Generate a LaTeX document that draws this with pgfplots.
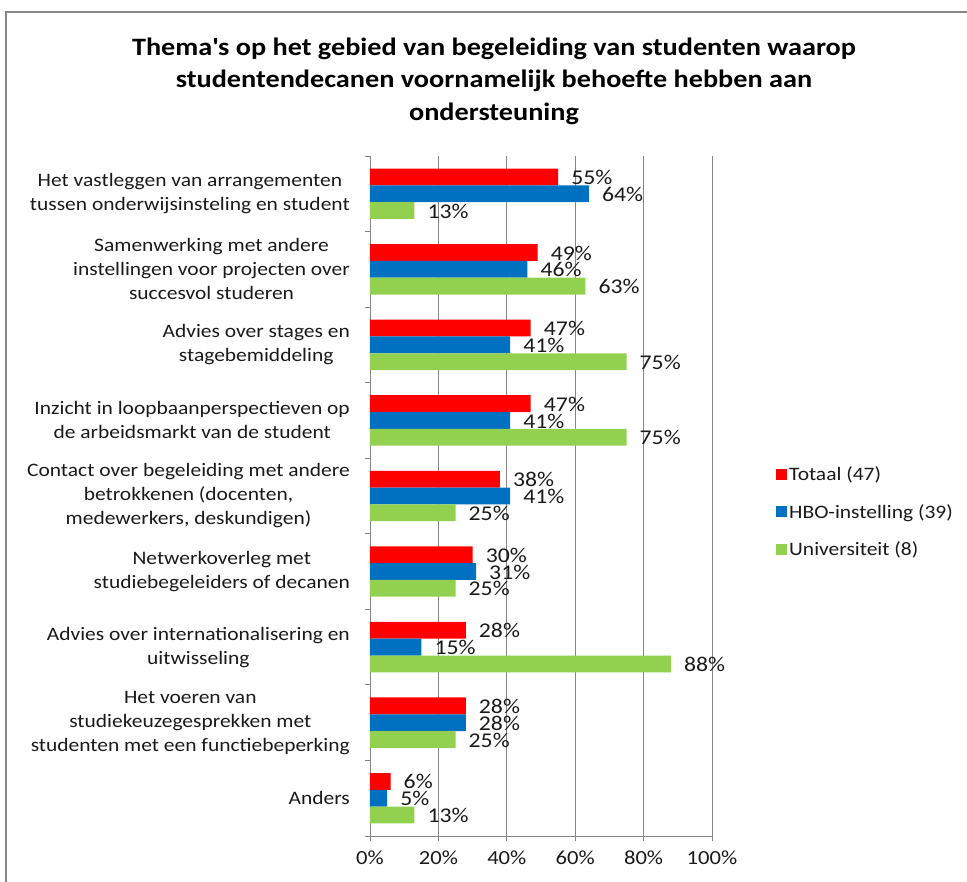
\documentclass[border=0pt]{standalone}
\usepackage{pgfplots}
\pgfplotsset{compat=1.18}
\usepackage{fontspec}
\setmainfont{Carlito}[FakeStretch=1.13]
\definecolor{cRed}{HTML}{FF0000}
\definecolor{cBlue}{HTML}{0070C0}
\definecolor{cGreen}{HTML}{92D050}
\definecolor{gridc}{HTML}{868686}
\definecolor{txt}{HTML}{1A1A1A}
\begin{document}
\begin{tikzpicture}
\path[use as bounding box] (0pt,0pt) rectangle (967pt,882pt);
\draw[gridc, line width=1.5pt] (6pt,-10pt) -- (6pt,870pt) -- (990pt,870pt);
\node[align=center, font=\bfseries\fontsize{25}{32.5}\selectfont, text=black] at (494pt,801pt)
 {Thema\textquotesingle s op het gebied van begeleiding van studenten waarop\\studentendecanen voornamelijk behoefte hebben aan\\ondersteuning};
\begin{axis}[
  at={(370pt,46pt)}, anchor=south west,
  scale only axis, width=342pt, height=680pt,
  xmin=0, xmax=100, ymin=-0.5, ymax=8.5,
  axis x line*=bottom, axis y line*=left,
  axis line style={gridc, line width=0.8pt},
  xmajorgrids, grid style={gridc, line width=0.8pt},
  xtick={0,20,40,60,80,100},
  xticklabels={0\%,20\%,40\%,60\%,80\%,100\%},
  tick align=outside, major tick length=5pt, minor tick length=5pt,
  tick style={gridc, line width=0.8pt},
  ytick={0,...,8},
  minor ytick={-0.5,0.5,...,8.5},
  major y tick style={draw=none},
  yticklabels={
    {Anders},
    {Het voeren van\\studiekeuzegesprekken met\\studenten met een functiebeperking},
    {Advies over internationalisering en\\uitwisseling},
    {Netwerkoverleg met\\studiebegeleiders of decanen},
    {Contact over begeleiding met andere\\betrokkenen (docenten,\\medewerkers, deskundigen)},
    {Inzicht in loopbaanperspectieven op\\de arbeidsmarkt van de student},
    {Advies over stages en\\stagebemiddeling},
    {Samenwerking met andere\\instellingen voor projecten over\\succesvol studeren},
    {Het vastleggen van arrangementen\\tussen onderwijsinsteling en student}},
  yticklabel style={align=center, anchor=east, inner sep=0pt, xshift=-15pt,
    font=\fontsize{19}{24}\selectfont, text=txt},
  xticklabel style={font=\fontsize{20}{24}\selectfont, text=txt, yshift=-6pt},
  xbar, bar width=16.8pt,
  nodes near coords={\pgfmathprintnumber{\pgfplotspointmeta}\%},
  nodes near coords style={anchor=west, inner sep=0pt, xshift=13pt, yshift=-0.5pt,
    font=\fontsize{21}{24}\selectfont, text=txt},
  /pgf/number format/assume math mode=true,
  legend style={at={(1,0.5)}, anchor=west, xshift=64pt, yshift=-16pt, draw=none,
    inner sep=0pt, row sep=18pt, font=\fontsize{19}{23}\selectfont, text=txt,
    /tikz/every even column/.append style={column sep=4pt}},
  legend cell align=left,
  legend image code/.code={\fill[#1] (0pt,-5.5pt) rectangle (11pt,5.5pt);},
]
\addplot[draw=none, fill=cRed, bar shift=16.8pt] coordinates {
 (6,0) (28,1) (28,2) (30,3) (38,4) (47,5) (47,6) (49,7) (55,8)};
\addplot[draw=none, fill=cBlue, bar shift=0pt] coordinates {
 (5,0) (28,1) (15,2) (31,3) (41,4) (41,5) (41,6) (46,7) (64,8)};
\addplot[draw=none, fill=cGreen, bar shift=-16.8pt] coordinates {
 (13,0) (25,1) (88,2) (25,3) (25,4) (75,5) (75,6) (63,7) (13,8)};
\legend{Totaal (47),HBO-instelling (39),Universiteit (8)}
\end{axis}
\end{tikzpicture}
\end{document}
